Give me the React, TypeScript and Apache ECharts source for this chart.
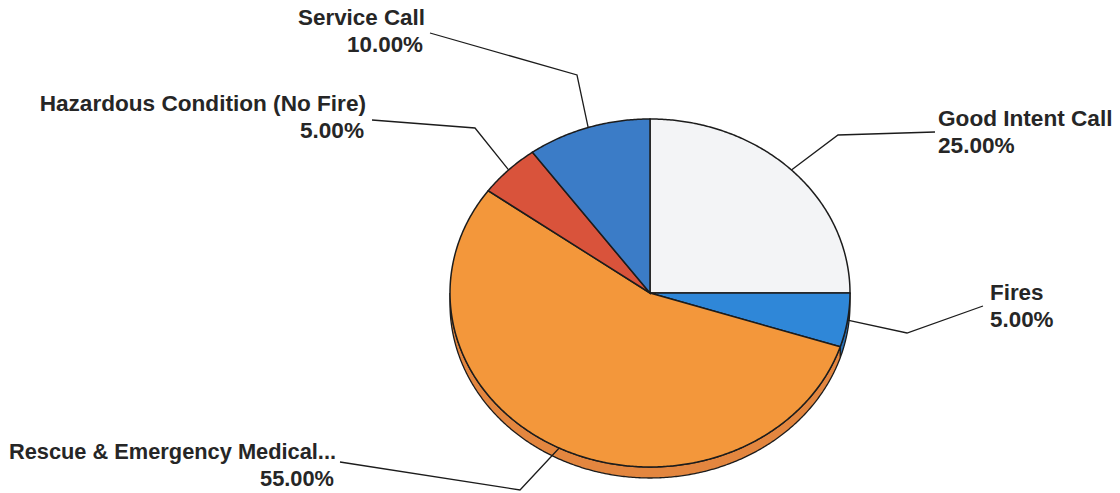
import React, { useEffect, useRef } from "react";
import * as echarts from "echarts";

// ---- data ----
const categories = [
  "Good Intent Call",
  "Fires",
  "Rescue & Emergency Medical...",
  "Hazardous Condition (No Fire)",
  "Service Call",
];
const values = [25, 5, 55, 5, 10];

// ---- styles ----
const topColors = ["#f3f4f6", "#2f87d8", "#f3973b", "#d9533b", "#3b7cc7"];
const rimColors = ["#d9dadc", "#2a72b8", "#e3863f", "#b9442f", "#3268aa"];

// label layout: text anchor, alignment, font size, leader elbow, leader end
const labelLayout = [
  { x: 938, y: 118, align: "left", size: 22.6, elbow: [838, 135], end: [935, 132] },
  { x: 990, y: 292, align: "left", size: 22.4, elbow: [907, 333], end: [983, 306] },
  { x: 336, y: 451, align: "right", size: 21.8, elbow: [520, 490], end: [340, 462] },
  { x: 366, y: 103, align: "right", size: 22.6, elbow: [475, 128], end: [372, 120] },
  { x: 425, y: 17, align: "right", size: 22.4, elbow: [577, 75], end: [430, 33] },
];

const CX = 650;
const CY = 293;
const RX = 200;
const RY = 174;
const DEPTH = 11;
const FONT = '"Liberation Sans", Arial, sans-serif';

function pt(theta: number, dy = 0): number[] {
  const r = (theta * Math.PI) / 180;
  return [CX + RX * Math.sin(r), CY - RY * Math.cos(r) + dy];
}

function arc(a0: number, a1: number, dy = 0): number[][] {
  const pts: number[][] = [];
  const n = Math.max(2, Math.ceil(Math.abs(a1 - a0) / 0.5));
  for (let i = 0; i <= n; i++) pts.push(pt(a0 + ((a1 - a0) * i) / n, dy));
  return pts;
}

export default function App() {
  const ref = useRef<HTMLDivElement>(null);
  useEffect(() => {
    if (!ref.current) return;
    const chart = echarts.init(ref.current, undefined, { renderer: "svg" });
    const total = values.reduce((a, b) => a + b, 0);
    const starts: number[] = [];
    let acc = 0;
    values.forEach((v) => {
      starts.push((acc / total) * 360);
      acc += v;
    });

    const renderItem = (params: any) => {
      const i = params.dataIndex;
      const a0 = starts[i];
      const a1 = a0 + (values[i] / total) * 360;
      const children: any[] = [];
      const lineColor = "#1c1c1c";
      // rim (visible lower half)
      const r0 = Math.max(a0, 90);
      const r1 = Math.min(a1, 270);
      if (r0 < r1) {
        const pts = arc(r0, r1, 0).concat(arc(r1, r0, DEPTH));
        children.push({
          type: "polygon",
          shape: { points: pts },
          style: { fill: rimColors[i], stroke: lineColor, lineWidth: 1.3 },
        });
      }
      // top face
      children.push({
        type: "polygon",
        shape: { points: [[CX, CY]].concat(arc(a0, a1)) },
        style: { fill: topColors[i], stroke: lineColor, lineWidth: 1.5 },
      });
      // leader line
      const L = labelLayout[i];
      const mid = (a0 + a1) / 2;
      children.push({
        type: "polyline",
        shape: { points: [pt(mid), L.elbow, L.end] },
        style: { stroke: lineColor, lineWidth: 1.3, fill: "none" },
      });
      const pct = ((values[i] / total) * 100).toFixed(2) + "%";
      const textStyle = {
        fill: "#262626",
        fontSize: L.size,
        fontWeight: "bold",
        fontFamily: FONT,
        align: L.align,
        verticalAlign: "middle",
      };
      children.push({
        type: "text",
        style: { ...textStyle, text: categories[i], x: L.x, y: L.y },
      });
      children.push({
        type: "text",
        style: { ...textStyle, text: pct, x: L.x - (L.align === "right" ? 2 : 0), y: L.y + 27 },
      });
      return { type: "group", children };
    };

    chart.setOption({
      animation: false,
      backgroundColor: "#ffffff",
      series: [
        {
          type: "custom",
          coordinateSystem: "none",
          silent: true,
          renderItem,
          data: values.map((v, i) => ({ value: v, name: categories[i] })),
        },
      ],
    });
    return () => chart.dispose();
  }, []);
  return (
    <div
      ref={ref}
      style={{ position: "fixed", left: 0, top: 0, width: 1120, height: 493 }}
    />
  );
}
